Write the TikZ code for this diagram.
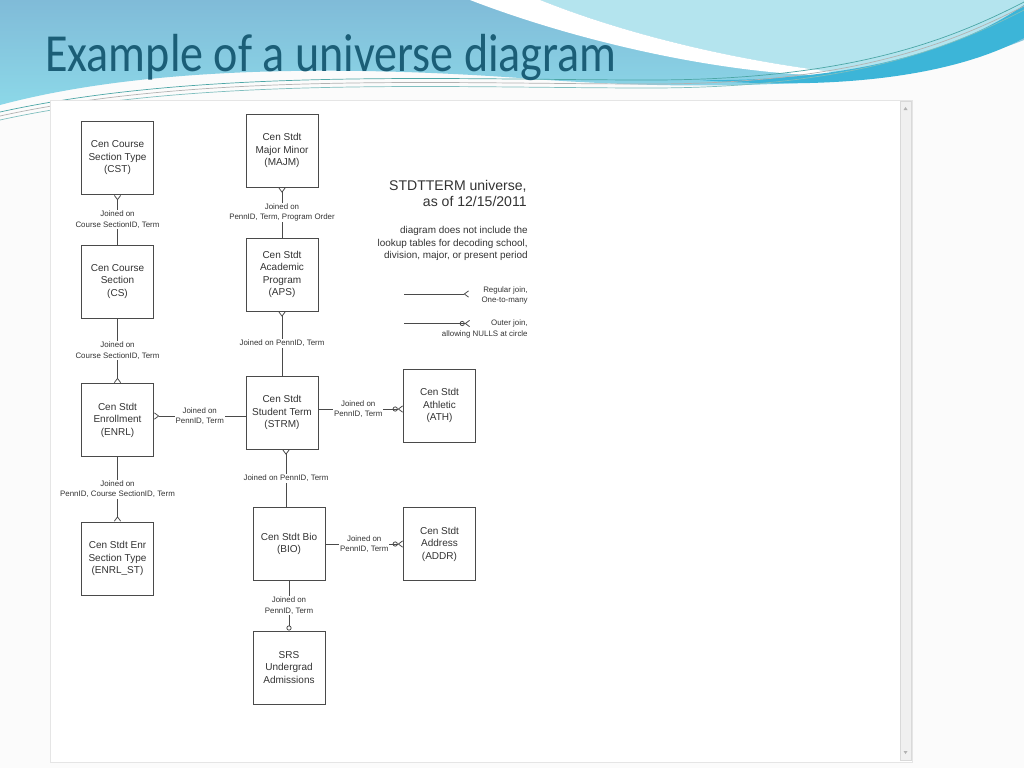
\documentclass[tikz,border=0pt]{standalone}
\usepackage{fontspec}
\newfontfamily\diafont{Liberation Sans}
\newfontfamily\titlefont{Carlito}
\usetikzlibrary{arrows.meta}

\definecolor{linegray}{HTML}{4A4A4A}
\definecolor{txtgray}{HTML}{333333}
\definecolor{titleteal}{HTML}{1B5E77}
\definecolor{hdrblue}{HTML}{80BBD8}
\definecolor{hdrcyan}{HTML}{8CD8E8}
\definecolor{hdrlight}{HTML}{B4E4EE}
\definecolor{swoosh}{HTML}{3CB5D8}

\tikzset{
  entity/.style={draw=linegray, fill=white, line width=0.55pt, minimum width=1.44cm,
    minimum height=1.46cm, inner sep=0pt, align=center, text=txtgray,
    font=\diafont\fontsize{5.7}{7.1}\selectfont},
  joinlbl/.style={fill=white, inner sep=0.6pt, align=center, text=txtgray,
    font=\diafont\fontsize{4.5}{5.9}\selectfont},
  legtxt/.style={inner sep=0pt, align=right, text=txtgray, anchor=east},
  joinline/.style={draw=linegray, line width=0.5pt},
  crow/.tip={Straight Barb[reversed, length=2.4pt, width=3.6pt, line width=0.45pt]},
  nullc/.tip={Circle[open, length=2.9pt, width=2.9pt, line width=0.45pt]},
}

\begin{document}
\begin{tikzpicture}[x=0.02cm, y=-0.02cm]
\useasboundingbox (0,0) rectangle (1024,768);
% slide and header
\fill[white!97!gray] (0,0) rectangle (1024,768);
\shade[top color=hdrblue, bottom color=hdrcyan] (0,0) -- (1024,0) -- (1024,40)
  .. controls (900,90) and (700,92) .. (520,78)
  .. controls (350,66) and (150,65) .. (0,105) -- cycle;
\fill[hdrlight] (540,0) -- (1024,0) -- (1024,20) .. controls (950,60) and (900,70) .. (860,75)
  .. controls (760,65) and (640,40) .. (540,0) -- cycle;
\fill[white] (470,0) -- (540,0) .. controls (640,40) and (760,65) .. (860,75)
  .. controls (760,80) and (600,50) .. (470,0) -- cycle;
\fill[swoosh] (700,80) .. controls (850,82) and (960,50) .. (1024,5) -- (1024,38)
  .. controls (950,78) and (830,90) .. (700,80) -- cycle;
\foreach \d/\c in {0/teal!70, 4/gray!60, 8/teal!50}
  \draw[\c, line width=0.4pt] (0,112+\d) .. controls (200,68+\d) and (450,80+\d) .. (650,80+\d)
    .. controls (850,80+\d) and (950,40+\d) .. (1024,2+\d);
\node[anchor=base west, inner sep=0pt, xscale=0.86, text=titleteal,
  font=\titlefont\fontsize{30.5}{36}\selectfont] (title) at (45,71) {Example of a universe diagram};

% diagram panel and scrollbar
\draw[gray!20, fill=white] (50,100) rectangle (912,762);
\draw[gray!30, fill=gray!12] (900,101) rectangle (911,760);
\fill[gray!60] (903.5,110) -- (907.5,110) -- (905.5,107) -- cycle;
\fill[gray!60] (903.5,751) -- (907.5,751) -- (905.5,754) -- cycle;

% tables
\node[entity] (CST) at (117.5,158) {Cen Course\\Section Type\\(CST)};
\node[entity] (CS) at (117.5,281.5) {Cen Course\\Section\\(CS)};
\node[entity] (ENRL) at (117.5,420) {Cen Stdt\\Enrollment\\(ENRL)};
\node[entity] (ENRLST) at (117.5,558.5) {Cen Stdt Enr\\Section Type\\(ENRL\_ST)};
\node[entity] (MAJM) at (282,150.5) {Cen Stdt\\Major Minor\\(MAJM)};
\node[entity] (APS) at (282,274.5) {Cen Stdt\\Academic\\Program\\(APS)};
\node[entity] (STRM) at (282,412.5) {Cen Stdt\\Student Term\\(STRM)};
\node[entity] (BIO) at (289,544) {Cen Stdt Bio\\(BIO)};
\node[entity] (SRS) at (289,667.5) {SRS\\Undergrad\\Admissions};
\node[entity] (ATH) at (439.5,405.5) {Cen Stdt\\Athletic\\(ATH)};
\node[entity] (ADDR) at (439.5,544) {Cen Stdt\\Address\\(ADDR)};

% joins
\draw[joinline, {crow[]}-] (CST) -- (CS)
  node[joinlbl, midway] (cstcs) {Joined on\\Course SectionID, Term};
\draw[joinline, -{crow[]}] (CS) -- (ENRL)
  node[joinlbl, midway] (csenrl) {Joined on\\Course SectionID, Term};
\draw[joinline, -{crow[]}] (ENRL) -- (ENRLST)
  node[joinlbl, midway] (enrlst) {Joined on\\PennID, Course SectionID, Term};
\draw[joinline, {crow[]}-] (ENRL.east |- 0,416) -- (STRM.west |- 0,416)
  node[joinlbl, midway] (enrlstrm) {Joined on\\PennID, Term};
\draw[joinline, {crow[]}-] (MAJM) -- (APS)
  node[joinlbl, midway] (majmaps) {Joined on\\PennID, Term, Program Order};
\draw[joinline, {crow[]}-] (APS) -- (STRM)
  node[joinlbl, midway] (apsstrm) {Joined on PennID, Term};
\draw[joinline, {crow[]}-] (STRM.south -| 286,0) -- (BIO.north -| 286,0)
  node[joinlbl, midway] (strmbio) {Joined on PennID, Term};
\draw[joinline, -{nullc[]crow[]}] (STRM.east |- 0,409) -- (ATH.west |- 0,409)
  node[joinlbl, pos=0.47] (strmath) {Joined on\\PennID, Term};
\draw[joinline, -{nullc[]crow[]}] (BIO) -- (ADDR)
  node[joinlbl, pos=0.5] (bioaddr) {Joined on\\PennID, Term};
\draw[joinline, -{nullc[]}] (BIO) -- (SRS)
  node[joinlbl, midway] (biosrs) {Joined on\\PennID, Term};

% heading, note and legend
\node[legtxt, font=\diafont\fontsize{8}{9.4}\selectfont] (head) at (527,193.6)
  {STDTTERM universe,\\as of 12/15/2011};
\node[legtxt, font=\diafont\fontsize{5.65}{6.9}\selectfont] (note) at (528,243.5)
  {diagram does not include the\\lookup tables for decoding school,\\division, major, or present period};
\coordinate (rega) at (404,294);
\coordinate (regb) at (469,294);
\draw[joinline, -{crow[]}] (rega) -- (regb);
\node[legtxt, font=\diafont\fontsize{4.5}{5.7}\selectfont] (regtxt) at (528,295.5)
  {Regular join,\\One-to-many};
\coordinate (outa) at (404,323.5);
\coordinate (outb) at (470,323.5);
\draw[joinline, -{nullc[]crow[]}] (outa) -- (outb);
\node[legtxt, font=\diafont\fontsize{4.5}{6.2}\selectfont] (outtxt) at (528,329)
  {Outer join,\\allowing NULLS at circle};
\end{tikzpicture}
\end{document}
